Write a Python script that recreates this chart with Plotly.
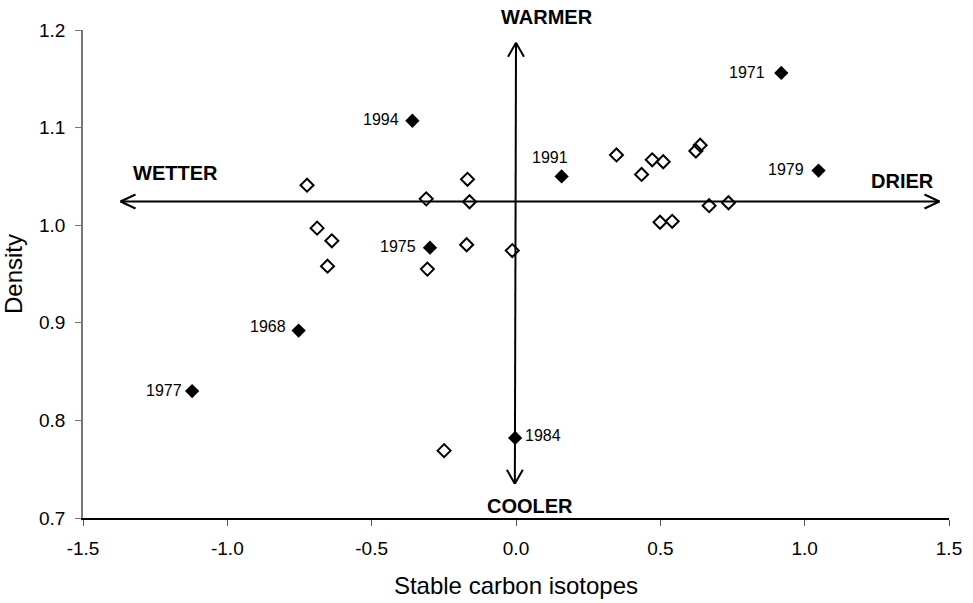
import plotly.graph_objects as go

# ---- data ----
open_x = [-0.724, -0.311, -0.168, -0.161, -0.689, -0.638, -0.653, -0.171, -0.307, -0.013,
          0.348, 0.435, 0.472, 0.510, 0.623, 0.638, 0.669, 0.736, 0.499, 0.541, -0.249]
open_y = [1.041, 1.027, 1.047, 1.024, 0.997, 0.984, 0.958, 0.980, 0.955, 0.974,
          1.072, 1.052, 1.067, 1.065, 1.076, 1.082, 1.020, 1.023, 1.003, 1.004, 0.769]

filled_x = [0.919, -0.359, 0.158, 1.048, -0.298, -0.753, -1.122, -0.003]
filled_y = [1.156, 1.107, 1.050, 1.056, 0.977, 0.892, 0.830, 0.782]
filled_years = ["1971", "1994", "1991", "1979", "1975", "1968", "1977", "1984"]
# label placement relative to each filled point: (xanchor, xshift, yshift)
label_place = [("right", -14, 0), ("right", -11, 1), ("center", -12, 19), ("right", -13, 1),
               ("right", -12, 1), ("right", -11, 4), ("right", -8, 1), ("left", 8, 2)]

x_ticks = [-1.5, -1.0, -0.5, 0.0, 0.5, 1.0, 1.5]
x_ticktext = ["-1.5", "-1.0", "-0.5", "0.0", "0.5", "1.0", "1.5"]
y_ticks = [0.7, 0.8, 0.9, 1.0, 1.1, 1.2]
y_ticktext = ["0.7", "0.8", "0.9", "1.0", "1.1", "1.2"]

# quadrant arrows (data coordinates) and labels
h_arrow = dict(x0=-1.370, x1=1.467, y=1.0243)
v_arrow = dict(x=0.0, x_bottom=-0.004, y0=0.735, y1=1.187)
dir_labels = ["WETTER", "DRIER", "WARMER", "COOLER"]

FONT = "Liberation Sans, Arial, sans-serif"
W, H = 973, 603
L, R, T, B = 82.5, 23.5, 30, 84.5
xr, yr = (-1.5, 1.5), (0.7, 1.2)
ppx = (W - L - R) / (xr[1] - xr[0])   # pixels per x unit
ppy = (H - T - B) / (yr[1] - yr[0])   # pixels per y unit

fig = go.Figure()

fig.add_trace(go.Scatter(
    x=open_x, y=open_y, mode="markers",
    marker=dict(symbol="diamond-open", size=10, color="black", line=dict(width=2, color="black")),
    showlegend=False, hoverinfo="x+y"))
fig.add_trace(go.Scatter(
    x=filled_x, y=filled_y, mode="markers",
    marker=dict(symbol="diamond", size=11, color="black", line=dict(width=0)),
    showlegend=False, hoverinfo="x+y"))

annotations = []
for xv, yv, yr_lbl, (anc, xs, ys) in zip(filled_x, filled_y, filled_years, label_place):
    annotations.append(dict(x=xv, y=yv, xref="x", yref="y", text=yr_lbl, showarrow=False,
                            xanchor=anc, yanchor="middle", xshift=xs, yshift=ys,
                            font=dict(family=FONT, size=16, color="black")))

shapes = []
lw = dict(color="black", width=2)
shapes.append(dict(type="line", xref="x", yref="y", x0=h_arrow["x0"], x1=h_arrow["x1"],
                   y0=h_arrow["y"], y1=h_arrow["y"], line=lw))
shapes.append(dict(type="line", xref="x", yref="y", x0=v_arrow["x_bottom"], x1=v_arrow["x"],
                   y0=v_arrow["y0"], y1=v_arrow["y1"], line=lw))

def head(tipx, tipy, dxp, dyp):
    # open V arrowhead: two arms, given in pixels relative to tip
    out = []
    for sgn in (1, -1):
        if dxp != 0 and dyp == 0:
            ax, ay = tipx + dxp / ppx, tipy + sgn * 7 / ppy
        else:
            ax, ay = tipx + sgn * 8 / ppx, tipy + dyp / ppy
        out.append(dict(type="line", xref="x", yref="y", x0=tipx, y0=tipy, x1=ax, y1=ay, line=lw))
    return out

shapes += head(h_arrow["x0"], h_arrow["y"], 15, 0)
shapes += head(h_arrow["x1"], h_arrow["y"], -15, 0)
shapes += head(v_arrow["x"], v_arrow["y1"], 0, -14)
shapes += head(v_arrow["x_bottom"], v_arrow["y0"], 0, 14)

bold = dict(family=FONT, size=20, color="black")
annotations += [
    dict(x=-1.18, y=1.0536, xref="x", yref="y", text="<b>%s</b>" % dir_labels[0], showarrow=False,
         font=bold, yanchor="middle"),
    dict(x=1.339, y=1.0455, xref="x", yref="y", text="<b>%s</b>" % dir_labels[1], showarrow=False,
         font=bold, yanchor="middle"),
    dict(x=0.107, y=1.0266, xref="x", yref="paper", text="<b>%s</b>" % dir_labels[2], showarrow=False,
         font=bold, yanchor="middle"),
    dict(x=0.047, y=0.7118, xref="x", yref="y", text="<b>%s</b>" % dir_labels[3], showarrow=False,
         font=bold, yanchor="middle"),
]

fig.update_layout(
    width=W, height=H,
    margin=dict(l=L, r=R, t=T, b=B, pad=0, autoexpand=False),
    paper_bgcolor="white", plot_bgcolor="white",
    font=dict(family=FONT, size=19, color="black"),
    shapes=shapes, annotations=annotations,
    xaxis=dict(range=list(xr), tickvals=x_ticks, ticktext=x_ticktext, showgrid=False, zeroline=False,
               showline=True, linecolor="black", linewidth=1.5, ticks="outside", ticklen=6,
               tickcolor="#555", tickwidth=1, tickfont=dict(size=19), ticklabelstandoff=6,
               automargin=False,
               title=dict(text="Stable carbon isotopes", font=dict(size=24), standoff=20)),
    yaxis=dict(range=list(yr), tickvals=y_ticks, ticktext=y_ticktext, showgrid=False, zeroline=False,
               showline=True, linecolor="#777", linewidth=1.5, ticks="outside", ticklen=6,
               tickcolor="#777", tickwidth=1, tickfont=dict(size=19), ticklabelstandoff=6,
               automargin=False,
               title=dict(text="Density", font=dict(size=24), standoff=10)),
)

fig.write_html("out.html")
